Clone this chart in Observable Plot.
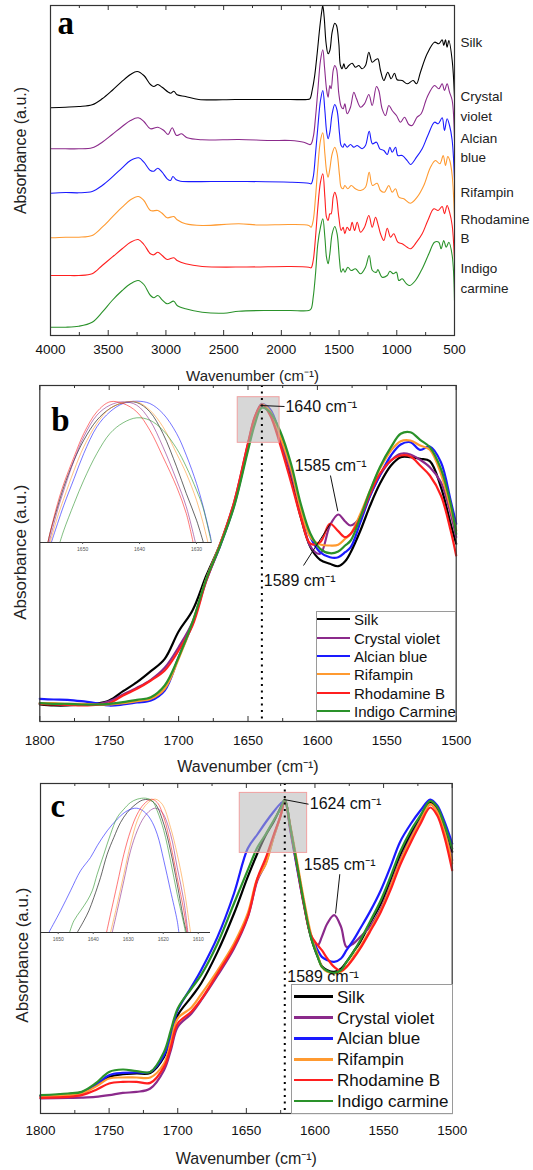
<!DOCTYPE html>
<html><head><meta charset="utf-8">
<script src="https://cdn.jsdelivr.net/npm/d3@7"></script>
<script src="https://cdn.jsdelivr.net/npm/@observablehq/plot@0.6"></script>
<style>
body{margin:0;background:#fff;}
#wrap{position:relative;width:533px;height:1170px;overflow:hidden;font-family:"Liberation Sans",Arial,sans-serif;background:#fff;}
.legend{position:absolute;background:#fff;border:1px solid #9a9a9a;box-sizing:border-box;}
.legend .sw{position:absolute;}
.legend .tx{position:absolute;line-height:1;transform:translateY(-50%);color:#111;white-space:nowrap;}
</style></head>
<body><div id="wrap"></div>
<script>
// ---------------- DATA ----------------
const names = ["Silk","Crystal violet","Alcian blue","Rifampin","Rhodamine B","Indigo carmine"];
const colors = ["#000000","#8b2a8b","#1a1aff","#ff9a30","#ff1f1f","#2a922a"];
const labelsA = ["Silk","Crystal\nviolet","Alcian\nblue","Rifampin","Rhodamine\nB","Indigo\ncarmine"];
const legendB = ["Silk","Crystal violet","Alcian blue","Rifampin","Rhodamine B","Indigo Carmine"];
const legendC = ["Silk","Crystal violet","Alcian blue","Rifampin","Rhodamine B","Indigo carmine"];

const ticksA = [4000,3500,3000,2500,2000,1500,1000,500];
const minorA = [3750,3250,2750,2250,1750,1250,750];
const ticksBC = [1800,1750,1700,1650,1600,1550,1500];
const minorBC = [1775,1725,1675,1625,1575,1525];
const ticksInsetB = [1650,1640,1630];
const ticksInsetC = [1650,1640,1630,1620,1610];

// Panel a: full spectra (wavenumber, stacked absorbance a.u.)
const aSilk = [[4000,227.7],[3870,228.3],[3755,229],[3639,230.7],[3552,236.7],[3466,245],[3379,254.3],[3307,261],[3249,264],[3191,260],[3134,251],[3105,249],[3070,251],[3033,248.3],[2960,242.3],[2932,244.3],[2903,240.7],[2830,239],[2715,236],[2400,236],[2100,236],[1921,236],[1776,236],[1753,236.7],[1733,245],[1713,258.3],[1690,281.7],[1667,308.3],[1649,325],[1641,330],[1629,318.3],[1612,291.7],[1595,281.7],[1580,285],[1560,303.3],[1537,312.3],[1522,310],[1502,291.7],[1488,270],[1473,266.7],[1459,271.7],[1444,266.7],[1415,270],[1387,272.3],[1358,268.3],[1329,270],[1300,266.7],[1271,270],[1242,283.3],[1213,273.3],[1184,275.7],[1164,276.7],[1141,265],[1112,255],[1078,263.3],[1049,256.7],[1020,262.3],[997,255.7],[953,255],[910,251.7],[858,255],[829,251.7],[795,263.3],[737,281.7],[673,293.3],[636,291.7],[607,295.7],[593,290],[578,295.7],[564,288.3],[549,295],[520,275],[500,238]];
const aCrystal = [[4000,186.7],[3870,186.7],[3755,186.7],[3639,187.7],[3552,193.3],[3466,201],[3379,209],[3307,215],[3240,217.7],[3191,214],[3134,206.7],[3070,208.3],[3018,205],[2981,201],[2946,207.7],[2908,200],[2865,201.7],[2816,197.7],[2686,195.7],[2368,196],[2100,195],[1921,195],[1805,193.3],[1748,191],[1724,198.3],[1704,218.3],[1684,245],[1661,275],[1641,285.7],[1626,268.3],[1609,246.7],[1595,238.3],[1580,250],[1569,246.7],[1551,265],[1537,270],[1522,266.7],[1502,241.7],[1482,229],[1465,226.7],[1450,231.7],[1430,221.7],[1401,228.3],[1372,243.3],[1349,236.7],[1314,228.3],[1280,231.7],[1242,241],[1213,230],[1176,249],[1156,245],[1127,226.7],[1098,220],[1069,230],[1040,225],[1003,220],[968,213.3],[933,218.3],[896,211],[867,210],[824,218.3],[789,221.7],[737,238.3],[673,250],[636,246.7],[607,251.7],[587,245],[564,251.7],[543,243.3],[520,235],[500,195]];
const aAlcian = [[4000,142.3],[3870,143],[3755,142.7],[3639,144],[3552,150],[3466,158.3],[3379,167.7],[3307,175],[3235,177.7],[3191,173.3],[3134,165],[3105,164.3],[3070,167.3],[3033,163.3],[2989,156.7],[2960,155],[2940,159],[2911,155.7],[2874,154.3],[2600,154],[2300,154],[1921,153.3],[1762,152.3],[1742,151.7],[1724,158.3],[1704,181.7],[1684,208.3],[1661,235],[1641,245],[1623,225],[1609,205],[1595,196.7],[1580,203.3],[1560,221.7],[1537,231],[1517,225],[1496,201.7],[1482,190],[1465,188.3],[1453,191.7],[1430,188.3],[1401,191],[1372,188.3],[1343,190],[1300,186.7],[1271,190],[1239,204.3],[1211,191.7],[1176,193.3],[1147,186.7],[1112,185],[1083,181],[1060,188.3],[1040,183.3],[1011,188.3],[991,180],[953,180],[910,175],[881,171],[829,178.3],[780,186.7],[731,200],[673,213.3],[642,211.7],[607,217.7],[587,205],[564,216.7],[543,210],[520,195],[500,155]];
const aRifampin = [[4000,97.7],[3870,98.3],[3755,98.3],[3639,100],[3552,108.3],[3466,118.3],[3379,128.3],[3307,135.7],[3240,139],[3191,135],[3134,125],[3070,125],[3033,122.3],[2989,117.7],[2932,119],[2903,115.7],[2830,111.7],[2686,110],[2368,111.7],[2200,110.5],[1921,111],[1762,110],[1742,108.3],[1724,115],[1704,138.3],[1684,168.3],[1661,195],[1641,202.7],[1623,181.7],[1609,165],[1595,158.3],[1580,166.7],[1560,181.7],[1537,188.3],[1517,181.7],[1496,160],[1482,148.3],[1465,146.7],[1450,150],[1424,146.7],[1395,150],[1358,146.7],[1314,145],[1271,148.3],[1239,163.3],[1211,150],[1170,152.3],[1141,145],[1107,143.3],[1069,150],[1040,143.3],[1011,146.7],[982,138.3],[939,136.7],[881,132.3],[824,138.3],[766,150],[708,168.3],[665,175],[627,171.7],[598,180],[578,170],[558,179],[541,175],[520,160],[500,116.7]];
const aRhodamine = [[4000,60],[3870,60],[3755,60],[3639,61.7],[3552,70],[3466,78.3],[3379,86.7],[3307,93.3],[3240,96],[3191,91],[3134,81.7],[3105,80.7],[3070,83.3],[3033,80],[2989,76],[2932,77.7],[2903,75],[2830,71.7],[2686,69],[2300,68.5],[1921,69],[1762,68.3],[1742,67.7],[1724,75],[1704,98.3],[1684,128.3],[1661,153.3],[1641,161.7],[1623,138.3],[1609,118.3],[1595,115],[1580,121.7],[1569,121.7],[1551,138.3],[1537,143.3],[1522,138.3],[1502,118.3],[1482,105],[1465,108.3],[1450,101.7],[1430,108.3],[1407,105],[1387,113.3],[1366,105],[1343,113.3],[1314,103.3],[1280,108.3],[1242,120],[1213,108.3],[1184,118.3],[1164,111.7],[1141,101.7],[1112,95],[1083,107.3],[1054,98.3],[1026,101.7],[991,93.3],[953,91.7],[910,88.3],[881,86.7],[829,93.3],[780,101.7],[731,115],[679,126.7],[642,125],[607,129],[587,121.7],[564,130],[543,123.3],[520,110],[500,75]];
const aIndigo = [[4000,8.3],[3870,8.3],[3755,9.3],[3639,13.3],[3552,23.3],[3466,35],[3379,45],[3307,51.7],[3240,55],[3191,51],[3134,40],[3105,37.7],[3070,40],[3033,35.7],[2989,31.7],[2932,34.3],[2903,30],[2830,26.7],[2686,23.3],[2500,22.3],[2368,24.3],[2100,25],[1921,25],[1762,25],[1742,26.7],[1724,38.3],[1704,61.7],[1684,91.7],[1661,108.3],[1641,116.7],[1623,98.3],[1609,78.3],[1595,71.7],[1580,81.7],[1560,101.7],[1537,109],[1517,101.7],[1496,75],[1482,63.3],[1465,66.7],[1450,63.3],[1424,68.3],[1395,65],[1358,66.7],[1314,61.7],[1271,68.3],[1239,80],[1211,65],[1176,63.3],[1164,66],[1127,58.3],[1083,60],[1060,64.3],[1031,61.7],[1003,63.3],[982,55],[953,56.7],[916,51.7],[887,50],[838,55],[780,66.7],[722,81.7],[673,93.3],[636,93.3],[616,86.7],[593,95],[572,88.3],[549,93.3],[520,80],[500,35]];

// Panel b: 1800-1500 cm-1 (shared wavenumber grid)
const bWn = [1800,1790,1780,1770,1760,1750,1740,1730,1720,1710,1700,1690,1680,1670,1660,1650,1645,1640,1634,1627,1619,1612,1605,1598,1591,1585,1580,1576,1569,1562,1555,1547,1540,1533,1526,1519,1511,1504,1500];
const bSilk = [17,16,16,17,17.7,21,30.3,39.3,50.3,62.7,90,111,146,177.7,217.7,276,302.7,317,308,281,244.3,204.3,174.3,161.7,157.7,155.3,160.3,169.3,191,216,237.7,256,264.3,264.3,262.7,260.3,234.3,197.7,177.7];
const bCrystal = [18.3,17.7,17,17,17,20.3,27,33.7,41.7,53.7,74.3,99.3,142.7,177.7,219.3,277.7,304.3,317.7,308,281,247.7,211,175,167.7,196,207,200,196,204.3,226,246,261,267.7,267,261.7,254.3,239.3,207.7,184.3];
const bAlcian = [22.7,22,21.7,20.3,18.3,16,17,19,21,31,64.3,97.7,141,176,216,274.3,301.7,317,312,287.7,254.3,214.3,184.3,169.3,164.3,164.3,169.3,174.3,199.3,226,246,266,277,279.3,271.7,275,259.3,221,197.7];
const bRifampin = [18.3,18.3,17.7,17.7,17,17,18.3,20.3,22.7,32.7,62.7,98.3,142.7,177.7,217.7,275,302.7,317,310,286,252.7,212.7,184.3,177,176,176.7,182.7,187.7,207.7,231,252.7,271,280.3,281,276,271.7,247.7,212.7,191];
const bRhodamine = [17.7,17,16.7,16,16.7,18.3,26,32.7,41,51,71,96,141,177,219.3,278.3,305,317,306,277.7,239.3,204.3,177.7,179.3,197.7,190.3,184.3,187.7,204.3,227.7,247.7,261,266,265,256,246,226,191,166];
const bIndigo = [18.3,17.7,17.7,17,17,17.7,19.3,21.7,24.3,36,64.3,99.3,142.7,176,215,271,297.7,313.7,309,291,257.7,217.7,187.7,172.7,168.3,170,176,181,204.3,231,254.3,274.3,287.7,289.3,281.7,274.3,252.7,217.7,187.7];

// Panel b inset (zoom of the Amide I peak), [wavenumber, height]
const biSilk = [[1656.1,0],[1655.6,12.3],[1654.4,35.7],[1653.3,55.7],[1651.5,82.3],[1649.8,102.3],[1647.5,122.3],[1645.2,134],[1642.9,139.7],[1640.5,140],[1638.2,130.7],[1635.9,109],[1633.5,75.7],[1631.8,49],[1630.0,22.3],[1628.8,0]];
const biCrystal = [[1655.9,0],[1654.4,32.3],[1653.3,52.3],[1651.5,82.3],[1649.8,105.7],[1647.5,127.3],[1645.2,137.3],[1642.9,140.7],[1640.5,137.3],[1638.2,122.3],[1635.9,95.7],[1633.5,62.3],[1631.8,35.7],[1630.2,0]];
const biAlcian = [[1655.5,0],[1654.4,19],[1653.3,37.3],[1651.5,64],[1649.8,89],[1647.5,115.7],[1645.2,130.7],[1642.9,139],[1640.5,141.3],[1638.2,139],[1635.9,129],[1633.5,109],[1631.8,87.3],[1630.0,59],[1628.9,37.3],[1627.3,0]];
const biRifampin = [[1655.7,0],[1654.4,25.7],[1653.3,44],[1651.5,72.3],[1649.8,95.7],[1647.5,119],[1645.2,134],[1642.9,139.7],[1640.5,140.7],[1638.2,132.3],[1635.9,115.7],[1633.5,89],[1631.8,69],[1630.0,42.3],[1628.9,20.7],[1628.0,0]];
const biRhodamine = [[1656.1,0],[1655.6,12.3],[1654.4,39],[1653.3,59],[1651.5,85.7],[1649.8,109],[1647.5,130.7],[1645.2,140.7],[1642.9,139],[1640.5,130.7],[1638.2,112.3],[1635.9,85.7],[1633.5,55.7],[1631.8,29],[1630.6,0]];
const biIndigo = [[1654.0,0],[1653.3,12.3],[1651.5,39],[1649.8,62.3],[1647.5,89],[1645.2,109],[1642.9,119.7],[1640.5,124.7],[1638.2,122.3],[1635.9,112.3],[1633.5,94],[1631.8,75.7],[1630.0,52.3],[1628.9,35.7],[1627.4,0]];

// Panel c: 1800-1500 cm-1 (shared wavenumber grid)
const cWn = [1800,1780,1770,1760,1750,1740,1730,1720,1710,1705,1700,1690,1683,1671,1659,1649,1642,1636,1630,1625,1622,1618,1613,1608,1603,1598,1595,1591,1586,1581,1577,1572,1567,1560,1552,1545,1538,1530,1523,1516,1511,1506,1500];
const cSilk = [17.3,19.3,20.6,28.3,36.6,39.3,40,40.6,56.6,76.6,98.3,116.6,130,161.6,200,236.6,260,278,292,306,314,286.6,248.3,210,176.6,156.6,147.3,143.3,141.6,145,151.6,161.6,171.6,190,210,233.3,258.3,280,296.6,310.6,305,288.3,261.6];
const cCrystal = [15,15.6,15.9,16.6,18.3,20.6,21.6,25,43.3,63.3,86.6,100,113,138,165,196,233,250,277,298,314,286.6,248.3,210,178.3,168.3,176.6,190,198.3,186.6,166.6,170,176.6,186.6,205,228.3,253.3,276.6,294,309.3,302.6,285,253.3];
const cAlcian = [17.3,19.3,21.3,28.3,38.3,40.6,41,41.6,58.3,78.3,103.3,126.6,143.3,176.6,220,265,279,291,302,310,312,283.3,245,208.3,178.3,163.3,156.6,153.3,151.6,155,163.3,173.3,185,201.6,223.3,246.6,271.6,290,303.3,314,308.3,293.3,270];
const cRifampin = [16.6,18.3,20,26.6,35,36,36,36,50,71.6,95,106,119,143,170,200,235,249,277,298,314,288.3,251.6,213.3,180,158.3,146.6,141.6,140,141.6,146.6,156.6,166.6,183.3,203.3,226.6,251.6,275,293.3,309.3,301.6,283.3,250];
const cRhodamine = [15.6,16.6,18.3,23.3,30,31.6,31.6,30.6,46.6,66.6,90,102,114,140,167,197,235,255,279,298,313,285,246.6,208.3,178.3,168.3,163.3,155,146.6,142.6,146.6,155,165,181.6,201.6,223.3,248.3,271.6,290,306,298.3,278.3,243.3];
const cIndigo = [18.3,20,21.6,30,41.6,44,42.3,41.6,61.6,83.3,105,125,138.3,170,210,243.3,266,279,293.3,305,314,286.6,248.3,210,176.6,156.6,146.6,142.6,140.6,143.3,151.6,161.6,173.3,191.6,213.3,236.6,261.6,283.3,298.3,312.6,306.6,290,265];

// Panel c inset, [wavenumber, height]
const ciSilk = [[1644.58,0],[1642.68,11.7],[1641.25,21.7],[1639.82,35],[1637.91,55],[1636.01,78.3],[1634.11,95],[1632.2,110],[1630.29,120],[1628.39,126.7],[1626.01,132.3],[1624.11,132.7],[1622.2,128.3],[1619.82,108.3],[1617.91,81.7],[1616.01,48.3],[1614.11,11.7],[1613.34,0]];
const ciCrystal = [[1634.58,0],[1633.15,21.7],[1631.25,51.7],[1629.34,81.7],[1627.44,101.7],[1625.53,115],[1623.63,122.3],[1622.2,124.3],[1620.29,120],[1617.91,98.3],[1616.01,65],[1614.11,31.7],[1612.96,0]];
const ciAlcian = [[1652.68,0],[1649.34,21.7],[1646.49,41.7],[1643.63,61.7],[1640.77,75],[1638.87,86.7],[1636.01,101.7],[1633.15,113.3],[1630.29,121.7],[1627.6,124.3],[1625.53,121],[1623.63,113.3],[1621.72,98.3],[1619.82,71.7],[1617.91,41.7],[1616.01,11.7],[1615.53,0]];
const ciRifampin = [[1635.06,0],[1633.15,28.3],[1631.25,58.3],[1629.34,88.3],[1627.44,111.7],[1625.53,125],[1623.63,131.7],[1622.2,133.3],[1620.29,128.3],[1617.91,105],[1616.01,78.3],[1614.11,45],[1612.68,11.7],[1612.2,0]];
const ciRhodamine = [[1636.2,0],[1635.06,18.3],[1633.15,48.3],[1631.25,78.3],[1629.34,101.7],[1627.44,118.3],[1625.53,128.3],[1623.44,133.3],[1621.72,130],[1619.82,115],[1617.91,88.3],[1616.01,55],[1614.11,21.7],[1613.15,0]];
const ciIndigo = [[1646.77,0],[1645.53,11.7],[1643.63,21.7],[1641.72,31.7],[1640.29,41.7],[1638.87,58.3],[1636.96,78.3],[1635.06,98.3],[1633.15,115],[1631.25,123.3],[1629.34,130],[1627.44,133.3],[1625.06,134.3],[1623.15,131.7],[1621.72,121.7],[1619.82,101.7],[1617.91,71.7],[1616.01,38.3],[1614.11,8.3],[1613.63,0]];

// Annotations (data coordinates)
const bZoomWin = [{x1:1657.4, x2:1627.25, y1:278.7, y2:324.3}];
const cZoomWin = [{x1:1654.8, x2:1605.7, y1:260.6, y2:320.6}];
const bPeakLine = [1640];
const cPeakLine = [1622];
const bNotes = [{x:1623, y:315, t:"1640 cm⁻¹"},{x:1616.3, y:256, t:"1585 cm⁻¹"},{x:1638.6, y:140.3, t:"1589 cm⁻¹"}];
const bLeaders = [{x1:1641,y1:316,x2:1623.7,y2:315},{x1:1590.6,y1:246,x2:1585.3,y2:210.3},{x1:1610,y1:156,x2:1590.6,y2:198}];
const cNotes = [{x:1603.8, y:309.3, t:"1624 cm⁻¹"},{x:1608.1, y:248.3, t:"1585 cm⁻¹"},{x:1620.2, y:136.6, t:"1589 cm⁻¹"}];
const cLeaders = [{x1:1622.7,y1:314,x2:1604.7,y2:309.3},{x1:1581.9,y1:239.3,x2:1585,y2:200}];

// ---------------- BUILD ----------------
const wrap = document.getElementById("wrap");
const FONT = "Liberation Sans, Arial, sans-serif";
const SERIF = "Liberation Serif, Times New Roman, serif";
const pairsRows = (arrs) => arrs.flatMap((arr, i) => arr.map(([wn, v]) => ({wn, v, name: names[i]})));
const gridRows = (wns, arrs) => arrs.flatMap((arr, i) => arr.map((v, j) => ({wn: wns[j], v, name: names[i]})));

const aRows = pairsRows([aSilk,aCrystal,aAlcian,aRifampin,aRhodamine,aIndigo]);
const bRows = gridRows(bWn, [bSilk,bCrystal,bAlcian,bRifampin,bRhodamine,bIndigo]);
const cRows = gridRows(cWn, [cSilk,cCrystal,cAlcian,cRifampin,cRhodamine,cIndigo]);
const biRows = pairsRows([biSilk,biCrystal,biAlcian,biRifampin,biRhodamine,biIndigo]);
const ciRows = pairsRows([ciSilk,ciCrystal,ciAlcian,ciRifampin,ciRhodamine,ciIndigo]);

function place(svg, left, top) {
  svg.style.position = "absolute";
  svg.style.left = left + "px";
  svg.style.top = top + "px";
  svg.style.background = "transparent";
  svg.style.overflow = "visible";
  wrap.appendChild(svg);
}
function frameTicks(major, minor, fh) {
  return [
    Plot.tickX(major, {x: d => d, insetTop: fh - 5, stroke: "#333", strokeWidth: 1}),
    Plot.tickX(minor, {x: d => d, insetTop: fh - 3, stroke: "#333", strokeWidth: 1}),
    Plot.tickX(major, {x: d => d, insetBottom: fh - 5, stroke: "#333", strokeWidth: 1}),
    Plot.tickX(minor, {x: d => d, insetBottom: fh - 3, stroke: "#333", strokeWidth: 1})
  ];
}
const xTitle = (dy, fs) => Plot.text(["Wavenumber (cm⁻¹)"], {text: d => d, frameAnchor: "bottom", dy, fontSize: fs, textAnchor: "middle", lineAnchor: "middle", fill: "#222"});
const yTitle = (dx, dy, fs) => Plot.text(["Absorbance (a.u.)"], {text: d => d, frameAnchor: "left", dx, dy, rotate: -90, fontSize: fs, textAnchor: "middle", lineAnchor: "middle", fill: "#222"});
const letter = (t, dx, dy) => Plot.text([t], {text: d => d, frameAnchor: "top-left", dx, dy, lineAnchor: "top", textAnchor: "start", fontSize: 33, fontWeight: "bold", fontFamily: SERIF, fill: "#000"});
const colorScale = {domain: names, range: colors};

// ---- Panel a ----
const aLabelY = [295, 231, 189.3, 144.3, 108.3, 58.7];
place(Plot.plot({
  width: 533, height: 390, marginLeft: 50, marginRight: 79, marginTop: 5, marginBottom: 55,
  x: {domain: [4000, 500]}, y: {domain: [0, 330], axis: null}, color: colorScale,
  style: {fontFamily: FONT, color: "#111"},
  marks: [
    ...frameTicks(ticksA, minorA, 330),
    Plot.line(aRows, {x: "wn", y: "v", stroke: "name", z: "name", curve: "catmull-rom", strokeWidth: 1.1}),
    Plot.frame({stroke: "#333", strokeWidth: 1.2}),
    Plot.axisX({ticks: ticksA, tickSize: 0, tickPadding: 8.5, fontSize: 13.5, tickFormat: d => String(d), label: null}),
    Plot.text(labelsA.map((t, i) => ({t, y: aLabelY[i]})), {y: "y", text: "t", frameAnchor: "right", dx: 6, textAnchor: "start", lineAnchor: "middle", lineHeight: 1.45, fontSize: 13.5, fill: "#222"}),
    xTitle(41, 15),
    yTitle(-30, -20, 16),
    letter("a", 7, 4.7)
  ]
}), 0, 0);

// ---- Panel b ----
place(Plot.plot({
  width: 533, height: 400, marginLeft: 39.3, marginRight: 77.3, marginTop: 5, marginBottom: 59,
  x: {domain: [1800, 1500]}, y: {domain: [0, 336], axis: null}, color: colorScale,
  style: {fontFamily: FONT, color: "#111"},
  marks: [
    ...frameTicks(ticksBC, minorBC, 336),
    Plot.line(bRows, {x: "wn", y: "v", stroke: "name", z: "name", curve: "catmull-rom", strokeWidth: 2.2}),
    Plot.rect(bZoomWin, {x1: "x1", x2: "x2", y1: "y1", y2: "y2", fill: "#b6b6b6", fillOpacity: 0.55, stroke: "#f0a0a0", strokeWidth: 1}),
    Plot.ruleX(bPeakLine, {stroke: "#000", strokeWidth: 2, strokeDasharray: "2,4.5"}),
    Plot.frame({stroke: "#333", strokeWidth: 1.2}),
    Plot.link(bLeaders, {x1: "x1", y1: "y1", x2: "x2", y2: "y2", stroke: "#111", strokeWidth: 1}),
    Plot.text(bNotes, {x: "x", y: "y", text: "t", textAnchor: "start", fontSize: 16, fill: "#111"}),
    Plot.axisX({ticks: ticksBC, tickSize: 0, tickPadding: 14.4, fontSize: 13.5, tickFormat: d => String(d), label: null}),
    xTitle(45.7, 16),
    yTitle(-19.3, -1.3, 17),
    letter("b", 11.4, 22)
  ]
}), 0, 380);

// inset b
place(Plot.plot({
  width: 171.7, height: 164, marginLeft: 0, marginRight: 0, marginTop: 0, marginBottom: 14,
  x: {domain: [1657.4, 1627.25]}, y: {domain: [0, 150], axis: null}, color: colorScale,
  style: {fontFamily: FONT},
  marks: [
    Plot.line(biRows, {x: "wn", y: "v", stroke: "name", z: "name", curve: "catmull-rom", strokeWidth: 1, strokeOpacity: 0.6, clip: true}),
    Plot.ruleY([0], {stroke: "#333", strokeWidth: 1}),
    Plot.axisX({ticks: ticksInsetB, tickSize: 2, tickPadding: 3, fontSize: 5, fill: "#555", stroke: "#555", tickFormat: d => String(d), label: null})
  ]
}), 40, 392.3);

// legends (HTML boxes)
function legend(labels, left, top, width, height, rows, lineLeft, lineW, textLeft, fs, lw) {
  const box = document.createElement("div");
  box.className = "legend";
  Object.assign(box.style, {left: left + "px", top: top + "px", width: width + "px", height: height + "px"});
  labels.forEach((lab, i) => {
    const sw = document.createElement("div");
    sw.className = "sw";
    Object.assign(sw.style, {left: lineLeft + "px", top: (rows[i] - top - lw / 2 - 1) + "px", width: lineW + "px", height: lw + "px", background: colors[i]});
    const tx = document.createElement("div");
    tx.className = "tx";
    tx.textContent = lab;
    Object.assign(tx.style, {left: textLeft + "px", top: (rows[i] - top - 1) + "px", fontSize: fs + "px"});
    box.appendChild(sw); box.appendChild(tx);
  });
  wrap.appendChild(box);
}
legend(legendB, 316, 610.7, 140.3, 110.8, [619.3,637.6,655.9,674.3,692.6,711], 0, 33, 37, 15, 2);

// ---- Panel c ----
place(Plot.plot({
  width: 533, height: 391.7, marginLeft: 40, marginRight: 81.3, marginTop: 5, marginBottom: 56.7,
  x: {domain: [1800, 1500]}, y: {domain: [0, 330], axis: null}, color: colorScale,
  style: {fontFamily: FONT, color: "#111"},
  marks: [
    ...frameTicks(ticksBC, minorBC, 330),
    Plot.line(cRows, {x: "wn", y: "v", stroke: "name", z: "name", curve: "catmull-rom", strokeWidth: 2.2}),
    Plot.rect(cZoomWin, {x1: "x1", x2: "x2", y1: "y1", y2: "y2", fill: "#b6b6b6", fillOpacity: 0.55, stroke: "#f0a0a0", strokeWidth: 1}),
    Plot.ruleX(cPeakLine, {stroke: "#000", strokeWidth: 2, strokeDasharray: "2,4.5"}),
    Plot.frame({stroke: "#333", strokeWidth: 1.2}),
    Plot.link(cLeaders, {x1: "x1", y1: "y1", x2: "x2", y2: "y2", stroke: "#111", strokeWidth: 1}),
    Plot.text(cNotes, {x: "x", y: "y", text: "t", textAnchor: "start", fontSize: 16, fill: "#111"}),
    Plot.axisX({ticks: ticksBC, tickSize: 0, tickPadding: 12.1, fontSize: 13.5, tickFormat: d => String(d), label: null}),
    xTitle(45, 16),
    yTitle(-18.3, 6.7, 17),
    letter("c", 10, 10)
  ]
}), 0, 778.3);

// inset c
place(Plot.plot({
  width: 170, height: 157, marginLeft: 0, marginRight: 0, marginTop: 0, marginBottom: 12,
  x: {domain: [1655.06, 1606.5]}, y: {domain: [0, 145], axis: null}, color: colorScale,
  style: {fontFamily: FONT},
  marks: [
    Plot.line(ciRows, {x: "wn", y: "v", stroke: "name", z: "name", curve: "catmull-rom", strokeWidth: 1, strokeOpacity: 0.6, clip: true}),
    Plot.ruleY([0], {stroke: "#333", strokeWidth: 1}),
    Plot.axisX({ticks: ticksInsetC, tickSize: 2, tickPadding: 2.5, fontSize: 5, fill: "#555", stroke: "#555", tickFormat: d => String(d), label: null})
  ]
}), 40, 786.7);

legend(legendC, 291, 984, 161.7, 130.3, [996.7,1017.6,1038.4,1059.3,1080.1,1101], 1.7, 39, 45, 17, 2.5);
</script></body></html>
